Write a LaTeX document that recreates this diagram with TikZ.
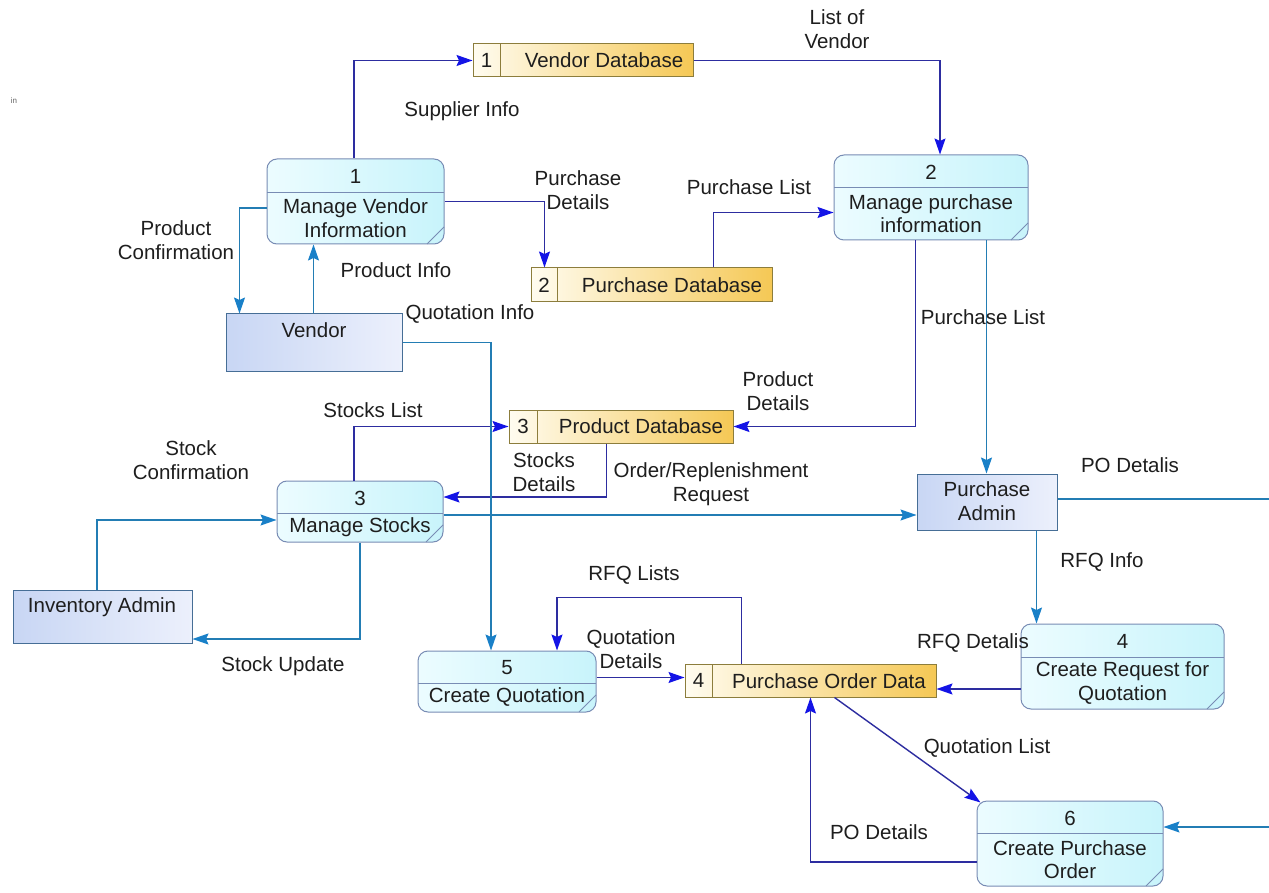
\documentclass[tikz,border=0pt]{standalone}
\usepackage{fontspec}
\setmainfont{Liberation Sans}
\usetikzlibrary{arrows.meta,fit,calc}
\definecolor{textC}{RGB}{30,30,30}
\definecolor{procL}{RGB}{236,252,255}
\definecolor{procR}{RGB}{200,244,251}
\definecolor{procB}{RGB}{120,140,180}
\definecolor{dsL}{RGB}{255,252,240}
\definecolor{dsR}{RGB}{245,200,85}
\definecolor{dsB}{RGB}{140,125,60}
\definecolor{entL}{RGB}{200,214,244}
\definecolor{entR}{RGB}{236,240,252}
\definecolor{entB}{RGB}{70,110,150}
\definecolor{navyL}{RGB}{45,45,160}
\definecolor{navyA}{RGB}{20,20,230}
\definecolor{tealL}{RGB}{35,125,180}
\definecolor{tealA}{RGB}{25,128,200}
\tikzset{
  txt/.style={font=\fontsize{20.5}{23.5}\selectfont, text=textC, inner sep=0pt, align=center},
  tiny/.style={font=\fontsize{8}{9}\selectfont, text=black!60, inner sep=0pt},
  proc/.style={draw=procB, line width=1pt, rounded corners=10pt, left color=procL, right color=procR, inner sep=0pt},
  procline/.style={draw=procB, line width=0.8pt},
  dstore/.style={draw=dsB, line width=1pt, left color=dsL, right color=dsR, inner sep=0pt},
  entity/.style={draw=entB, line width=1pt, left color=entL, right color=entR, inner sep=0pt},
  navyflow/.style={draw=navyL, line width=1.4pt, -{Stealth[length=16pt,width=11pt,inset=2.5pt,color=navyA]}},
  tealflow/.style={draw=tealL, line width=1.4pt, -{Stealth[length=16pt,width=11pt,inset=2.5pt,color=tealA]}},
  tealline/.style={draw=tealL, line width=1.4pt},
}
\newcommand\procbox[8]{%
  \node[proc, fit={(#2,#3)(#4,#5)}] (#1) {};
  \draw[procline] (#2,#6) -- (#4,#6);
  \draw[procline] ({#4-17},#5) -- (#4,{#5-17});
  \node[txt] at ({(#2+#4)/2},{(#3+#6)/2+1}) {#7};
  \node[txt] at ({(#2+#4)/2},{(#6+#5)/2}) {#8};
}
\newcommand\dsbox[7]{%
  \node[dstore, fit={(#2,#3)(#4,#5)}] (#1) {};
  \draw[dsB, line width=1pt] (#6,#3) -- (#6,#5);
  \node[txt] at ({(#2+#6)/2},{(#3+#5)/2}) {#7};
}
\begin{document}
\begin{tikzpicture}[x=1pt,y=-1pt]
\path[use as bounding box, fill=white] (0,0) rectangle (1269,893);
\node[tiny] (frag) at (14,101) {in};

% processes
\procbox{p1}{267}{159}{444}{244}{192}{1}{Manage Vendor\\Information}
\procbox{p2}{834}{155}{1028}{240}{187}{2}{Manage purchase\\information}
\procbox{p3}{277}{481}{443}{542}{513}{3}{Manage Stocks}
\procbox{p4}{1021}{624}{1224}{709}{657}{4}{Create Request for\\Quotation}
\procbox{p5}{418}{651}{596}{712}{683}{5}{Create Quotation}
\procbox{p6}{977}{801}{1163}{886}{833}{6}{Create Purchase\\Order}

% data stores
\dsbox{ds1}{473}{44}{693}{77}{500}{1}
\node[txt] (ds1t) at (604,60) {Vendor Database};
\dsbox{ds2}{531}{268}{772}{302}{557}{2}
\node[txt] (ds2t) at (672,285) {Purchase Database};
\dsbox{ds3}{509}{410}{733}{443}{537}{3}
\node[txt] (ds3t) at (641,426) {Product Database};
\dsbox{ds4}{685}{664}{936}{697}{712}{4}
\node[txt] (ds4t) at (829,681) {Purchase Order Data};

% external entities
\node[entity, fit={(226,314)(402,371)}] (vendor) {};
\node[txt] (vendort) at (314,330) {Vendor};
\node[entity, fit={(917,474)(1057,530)}] (padmin) {};
\node[txt] (padmint) at (987,501) {Purchase\\Admin};
\node[entity, fit={(13,590)(192,643)}] (iadmin) {};
\node[txt] (iadmint) at (102,607) {Inventory Admin};

\coordinate (edgeA) at (1269,499);
\coordinate (edgeB) at (1269,827);

% navy flows
\draw[navyflow] ([xshift=-1.5pt]p1.north) |- (ds1.west);
\draw[navyflow] (ds1.east) -| ([xshift=9pt]p2.north);
\draw[navyflow] (p1.east) -| ([xshift=14pt]ds2.north west);
\draw[navyflow] ([xshift=-59pt]ds2.north east) |- ([yshift=-15pt]p2.west);
\draw[navyflow] ([xshift=82pt]p2.south west) |- (ds3.east);
\draw[navyflow] ([xshift=98pt]ds3.south west) |- ([yshift=14.5pt]p3.east);
\draw[navyflow] ([xshift=-6pt]p3.north) |- (ds3.west);
\draw[navyflow] ([yshift=4pt]p5.east) -- ([yshift=4pt]p5.east -| ds4.west);
\draw[navyflow] ([xshift=57pt]ds4.north west) -- ++(0,-66) -| ([xshift=50pt]p5.north);
\draw[navyflow] ([yshift=-22.5pt]p4.west) -- ([yshift=-22.5pt]p4.west -| ds4.east);
\draw[navyflow] ([xshift=150pt]ds4.south west) -- ([xshift=4pt,yshift=-2pt]p6.north west);
\draw[navyflow] ([yshift=-18.5pt]p6.west) -| ([xshift=126pt]ds4.south west);

% teal flows
\draw[tealflow] ([yshift=-6.5pt]p1.west) -| ([xshift=14pt]vendor.north west);
\draw[tealflow] ([xshift=88pt]vendor.north west) -- ([xshift=88pt]vendor.north west |- p1.south);
\draw[tealflow] (vendor.east) -| ([xshift=-16pt]p5.north);
\draw[tealflow] ([xshift=-5.5pt]iadmin.north) |- ([yshift=-8.5pt]p3.west);
\draw[tealflow] (p3.south) |- ([yshift=-22.5pt]iadmin.east);
\draw[tealflow] ([yshift=-3.5pt]p3.east) -- ([yshift=-3.5pt]p3.east -| padmin.west);
\draw[tealflow] ([xshift=153pt]p2.south west) -- ([xshift=153pt]p2.south west |- padmin.north);
\draw[tealline] (padmin.east |- edgeA) -- (edgeA);
\draw[tealflow] (edgeB) -- (edgeB -| p6.east);
\draw[tealflow] ([xshift=120pt]padmin.south west) -- ([xshift=120pt]padmin.south west |- p4.north);

% labels
\node[txt] (l1) at (837,29) {List of\\Vendor};
\node[txt] (l2) at (462,111) {Supplier Info};
\node[txt] (l3) at (578,190) {Purchase\\Details};
\node[txt] (l4) at (749,187) {Purchase List};
\node[txt] (l5) at (176,240) {Product\\Confirmation};
\node[txt] (l6) at (396,270) {Product Info};
\node[txt] (l7) at (470,314) {Quotation Info};
\node[txt] (l8) at (983,317) {Purchase List};
\node[txt] (l9) at (778,391) {Product\\Details};
\node[txt] (l10) at (373,410) {Stocks List};
\node[txt] (l11) at (191,460) {Stock\\Confirmation};
\node[txt] (l12) at (544,472) {Stocks\\Details};
\node[txt] (l13) at (711,484) {Order/Replenishment\\Request};
\node[txt] (l14) at (1130,465) {PO Detalis};
\node[txt] (l15) at (1102,562) {RFQ Info};
\node[txt] (l16) at (634,575) {RFQ Lists};
\node[txt] (l17) at (283,666) {Stock Update};
\node[txt] (l18) at (631,649) {Quotation\\Details};
\node[txt] (l19) at (973,643) {RFQ Detalis};
\node[txt] (l20) at (987,748) {Quotation List};
\node[txt] (l21) at (879,832) {PO Details};
\end{tikzpicture}
\end{document}
